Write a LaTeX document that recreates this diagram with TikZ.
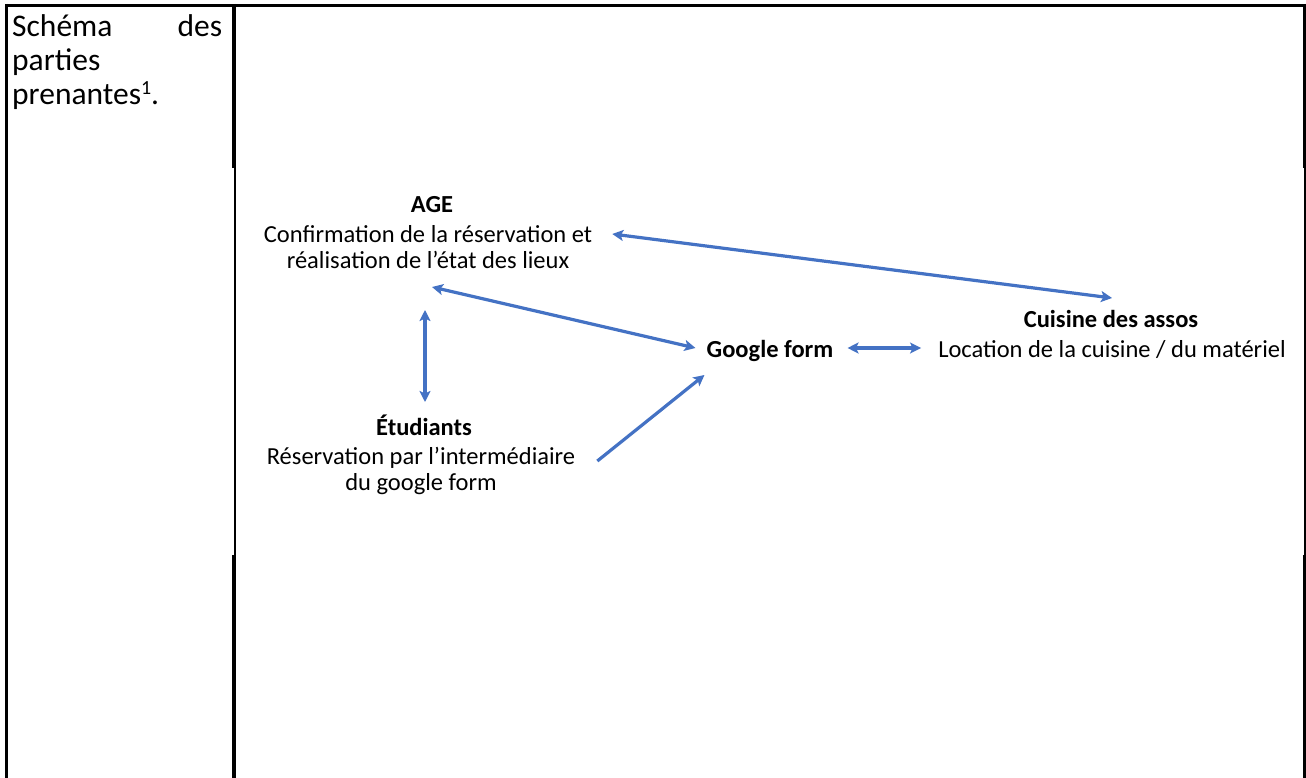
\documentclass[tikz,border=0pt]{standalone}
\usepackage{fontspec}
\setmainfont{Carlito}
\usetikzlibrary{arrows.meta,calc}
\definecolor{arrblue}{HTML}{4472C4}
\begin{document}
\begin{tikzpicture}[x=1pt,y=-1pt,
  txt/.style={font=\fontsize{24.5}{25.5}\selectfont, inner sep=0pt, align=center},
  ttl/.style={font=\fontsize{24.5}{25.5}\selectfont\bfseries, inner sep=0pt, align=center},
  biarr/.style={draw=arrblue, line width=3.2pt, {Stealth[length=11pt,width=11pt,inset=2.5pt]}-{Stealth[length=11pt,width=11pt,inset=2.5pt]}},
  arr/.style={draw=arrblue, line width=3.2pt, -{Stealth[length=11pt,width=11pt,inset=2.5pt]}},
  rulethick/.style={line width=3.5pt, black},
  rulethin/.style={line width=1.5pt, black}]
\useasboundingbox (0,0) rectangle (1306,778);
\fill[white] (0,0) rectangle (1306,778);
% table borders
\draw[rulethick] (5,5.5) -- (1306,5.5);
\draw[rulethick] (6.5,4) -- (6.5,778);
\draw[rulethick] (234,4) -- (234,168);
\draw[rulethin] (235,168) -- (235,555);
\draw[rulethick] (234,555) -- (234,778);
\draw[rulethick] (1304.5,4) -- (1304.5,168);
\draw[rulethin] (1305,168) -- (1305,555);
\draw[rulethick] (1304.5,555) -- (1304.5,778);
% left cell
\node[anchor=base west, text width=210pt, align=left, font=\fontsize{31.5}{34}\selectfont, inner sep=0pt] (lbl) at (12,37)
  {Schéma \hfill des\\parties\\prenantes\raisebox{10pt}{\fontsize{20}{20}\selectfont 1}.};
% diagram nodes
\node[ttl, anchor=base] (ageT) at (432,213) {AGE};
\node[txt, anchor=base] (ageD) at (428,268) {Confirmation de la réservation et\\réalisation de l’état des lieux};
\node[ttl, anchor=base] (etuT) at (424,435) {Étudiants};
\node[txt, anchor=base] (etuD) at (421,490) {Réservation par l’intermédiaire\\du google form};
\node[ttl, anchor=base] (gf) at (770,357) {Google form};
\node[ttl, anchor=base] (cuiT) at (1111,327) {Cuisine des assos};
\node[txt, anchor=base] (cuiD) at (1112,357) {Location de la cuisine / du matériel};
% connectors
\draw[biarr] ($(ageD.base east)+(20,-34)$) -- ($(cuiT.base)+(1,-29)$);
\draw[biarr] ($(ageD.base)+(4,19)$) -- ($(gf.base west)+(-11,-9)$);
\draw[biarr] ($(ageD.base)+(-3,42)$) -- ($(etuT.base)+(1,-33)$);
\draw[biarr] ($(gf.base east)+(14,-9)$) -- ($(cuiD.base west)+(-17,-9)$);
\draw[arr] ($(etuD.base east)+(22,-29)$) -- ($(gf.base west)+(-2,18)$);
\end{tikzpicture}
\end{document}
